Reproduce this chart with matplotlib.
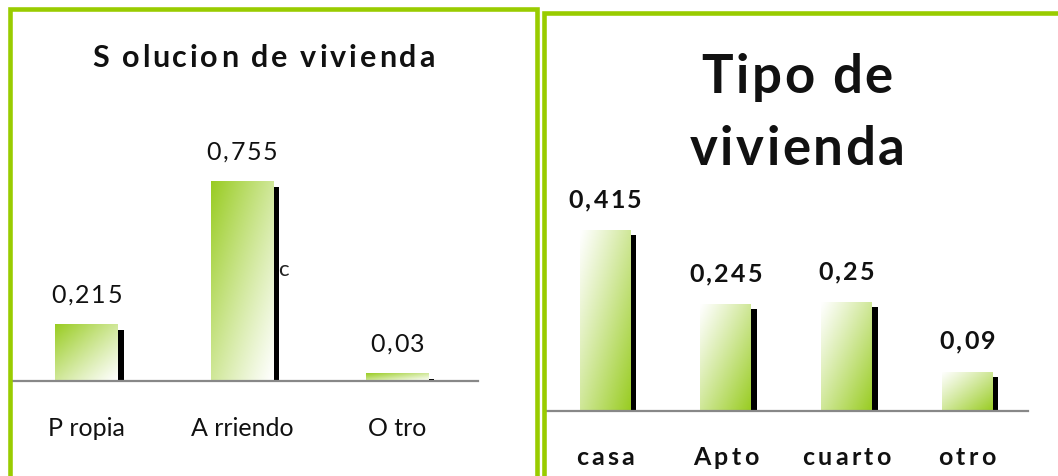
import numpy as np
import matplotlib
matplotlib.use("Agg")
import matplotlib.pyplot as plt
from matplotlib.patches import Rectangle
from matplotlib.colors import to_rgb
from matplotlib.font_manager import FontProperties
import matplotlib.transforms as mtransforms

# data
sol_cats = ["P ropia", "A rriendo", "O tro"]
sol_vals = [0.215, 0.755, 0.03]
sol_labels = ["0,215", "0,755", "0,03"]

tipo_cats = ["casa", "Apto", "cuarto", "otro"]
tipo_vals = [0.415, 0.245, 0.25, 0.09]
tipo_labels = ["0,415", "0,245", "0,25", "0,09"]

W, H = 1058, 477
GREEN = "#99CC00"
BAR_GREEN = to_rgb("#99CC22")
TXT = "#111111"
FAMILY = ['Lato', 'DejaVu Sans']
plt.rcParams['font.family'] = FAMILY

fig = plt.figure(figsize=(W / 100, H / 100), dpi=100)
renderer = fig.canvas.get_renderer()


def fx(px):
    return px / W


def fy(py):
    return 1 - py / H


def tracked(xc, ybase, s, track, size, weight='normal'):
    # letter-spaced text, centred at xc, baseline at ybase (pixels from top)
    prop = FontProperties(family=FAMILY, size=size, weight=weight)

    def w(t):
        return renderer.get_text_width_height_descent(t, prop, ismath=False)[0]

    base = w("||")
    advs = [w("|" + c + "|") - base for c in s]
    total = sum(advs) + track * (len(s) - 1)
    pen = xc - total / 2
    for c, a in zip(s, advs):
        if c != " ":
            fig.text(fx(pen + a / 2), fy(ybase), c, ha='center', va='baseline',
                     fontproperties=prop, color=TXT)
        pen += a + track


def to_px(ax, x, y):
    dx, dy = ax.transData.transform((x, y))
    return dx, H - dy


def gradient(green_top_left):
    n = 64
    u = np.linspace(0, 1, n)[None, :]
    v = np.linspace(0, 1, n)[:, None]  # 0 bottom, 1 top (origin lower)
    if green_top_left:
        t = ((1 - u) + v) / 2
    else:
        t = (u + (1 - v)) / 2
    t = np.clip(t, 0, 1) ** 1.1
    img = np.ones((n, n, 3)) * (1 - t[..., None]) + np.array(BAR_GREEN) * t[..., None]
    return img


def draw_bars(ax, vals, width, green_top_left, dx, dy):
    x = np.arange(len(vals))
    # black shadow, shifted right and down
    shadow_tr = mtransforms.offset_copy(ax.transData, fig=fig, x=dx, y=-dy, units='dots')
    ax.bar(x, vals, width, color="black", transform=shadow_tr, zorder=1)
    bars = ax.bar(x, vals, width, color="none", zorder=2)
    img = gradient(green_top_left)
    for b in bars:
        x0, y0 = b.get_x(), b.get_y()
        im = ax.imshow(img, extent=[x0, x0 + b.get_width(), y0, y0 + b.get_height()],
                       origin='lower', aspect='auto', zorder=2, interpolation='bilinear')
        im.set_clip_path(b)
    return x


def style_axis(ax):
    for s in ["top", "left", "right"]:
        ax.spines[s].set_visible(False)
    ax.spines["bottom"].set_color("#888888")
    ax.spines["bottom"].set_linewidth(1.6)
    ax.set_yticks([])
    ax.patch.set_alpha(0)


# ---- left panel: Solucion de vivienda ----
base1, top1 = 382, 100
ax1 = fig.add_axes([fx(12), fy(base1), fx(478) - fx(12), (base1 - top1) / H])
x1 = draw_bars(ax1, sol_vals, 0.4, True, 6, 6)
ax1.set_xlim(-0.48, 2.52)
ax1.set_ylim(0, (base1 - top1) / 265)
style_axis(ax1)
ax1.set_xticks(x1)
ax1.set_xticklabels(sol_cats, fontsize=18, color=TXT)
ax1.tick_params(axis='x', length=0, pad=25)
for xi, v, lab in zip(x1, sol_vals, sol_labels):
    px, py = to_px(ax1, xi, v)
    tracked(px, py - 22, lab, 1.8, 18)

tracked(263, 67, "S olucion de vivienda", 2.8, 22, 'bold')
fig.text(fx(283), fy(270), "c", ha='center', va='center', fontsize=16, color="#222222", zorder=0)

# ---- right panel: Tipo de vivienda ----
base2, top2 = 412, 180
ax2 = fig.add_axes([fx(546), fy(base2), fx(1028) - fx(546), (base2 - top2) / H])
x2 = draw_bars(ax2, tipo_vals, 0.42, False, 6, 5)
ax2.set_xlim(-0.49, 3.505)
ax2.set_ylim(0, (base2 - top2) / 436)
style_axis(ax2)
ax2.set_xticks(x2)
ax2.set_xticklabels([""] * len(x2))
ax2.tick_params(axis='x', length=0)
for xi, v, lab, cat in zip(x2, tipo_vals, tipo_labels, tipo_cats):
    px, py = to_px(ax2, xi, v)
    tracked(px, py - 23.5, lab, 2.2, 18, 'bold')
    tracked(px, 465, cat, 3.4, 18, 'bold')

tracked(797, 93, "Tipo de", 2.6, 38, 'bold')
tracked(797, 165, "vivienda", 2.6, 38, 'bold')

# ---- green panel borders ----
lw = 3.3
fig.patches.append(Rectangle((fx(9.5), fy(490)), fx(536.5) - fx(9.5), fy(10) - fy(490),
                             transform=fig.transFigure, fill=False, edgecolor=GREEN,
                             linewidth=lw, zorder=5))
fig.patches.append(Rectangle((fx(544), fy(490)), fx(1080) - fx(544), fy(13.5) - fy(490),
                             transform=fig.transFigure, fill=False, edgecolor=GREEN,
                             linewidth=lw, zorder=5))

fig.savefig("out.png", dpi=100)
